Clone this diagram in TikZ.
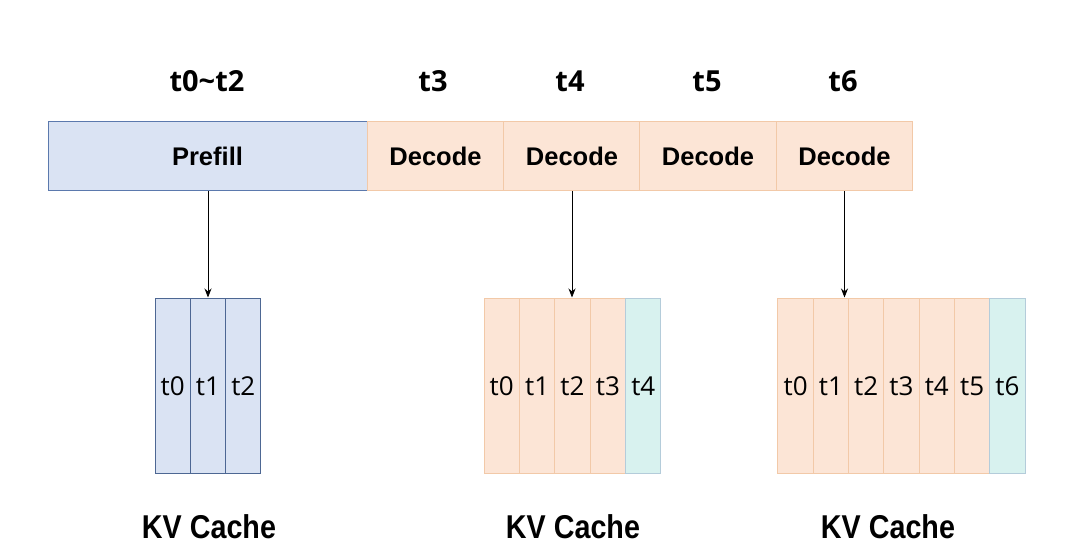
\documentclass[tikz,border=0pt]{standalone}
\usepackage{fontspec}
\setmainfont{Liberation Sans}
\newfontfamily\cellfont{Open Sans}
\usetikzlibrary{arrows.meta}
\definecolor{blueFill}{HTML}{DAE3F3}
\definecolor{blueLine}{HTML}{5B79AD}
\definecolor{peachFill}{HTML}{FCE5D6}
\definecolor{peachLine}{HTML}{F2C9A8}
\definecolor{cyanFill}{HTML}{D8F2EF}
\definecolor{cyanLine}{HTML}{B4CCDA}
\tikzset{
  phase/.style={draw, line width=1pt, minimum height=69pt, inner sep=0pt,
    font=\fontsize{25.5}{25.5}\selectfont\bfseries},
  prefillbox/.style={phase, fill=blueFill, draw=blueLine},
  decodebox/.style={phase, fill=peachFill, draw=peachLine, minimum width=136.5pt},
  cell/.style={draw, line width=1pt, minimum width=35.3pt, minimum height=175pt,
    inner sep=0pt, text height=19pt, text depth=0pt,
    font=\cellfont\fontsize{26}{26}\selectfont},
  oldcell/.style={cell, fill=blueFill, draw=blueLine!85!black},
  peachcell/.style={cell, fill=peachFill, draw=peachLine},
  newcell/.style={cell, fill=cyanFill, draw=cyanLine},
  steplabel/.style={font=\cellfont\fontsize{29}{29}\selectfont\bfseries},
  cachelabel/.style={font=\fontsize{33}{33}\selectfont\bfseries},
  link/.style={-{Stealth[length=9pt,width=7pt]}, line width=0.8pt, black}
}
\begin{document}
\begin{tikzpicture}[x=1pt,y=-1pt]
\useasboundingbox (0,0) rectangle (1080,559);

% time axis
\node[prefillbox, minimum width=319pt] (pre) at (207.5,156.5) {Prefill};
\node[decodebox] (d3) at (435.5,156.5) {Decode};
\node[decodebox] (d4) at (572,156.5) {Decode};
\node[decodebox] (d5) at (708,156.5) {Decode};
\node[decodebox] (d6) at (844.5,156.5) {Decode};

\node[steplabel] (l0) at (207,81) {t0\textasciitilde t2};
\node[steplabel] (l3) at (433,81) {t3};
\node[steplabel] (l4) at (570,81) {t4};
\node[steplabel] (l5) at (707,81) {t5};
\node[steplabel] (l6) at (843,81) {t6};

% cache after prefill
\foreach \i in {0,1,2}{
  \node[oldcell] (a\i) at ({172.7+35.3*\i},385.5) {t\i};
}
% cache at t4
\foreach \i in {0,...,3}{
  \node[peachcell] (b\i) at ({501.7+35.4*\i},385.5) {t\i};
}
\node[newcell] (b4) at ({501.7+35.4*4},385.5) {t4};
% cache at t6
\foreach \i in {0,...,5}{
  \node[peachcell] (c\i) at ({795.6+35.3*\i},385.5) {t\i};
}
\node[newcell] (c6) at ({795.6+35.3*6},385.5) {t6};

\draw[link] (pre.south -| a1.north) -- (a1.north);
\draw[link] (d4.south) -- (d4.south |- b2.north);
\draw[link] (d6.south) -- (d6.south |- c1.north);

\node[cachelabel] (k1) at (209,527) {\scalebox{0.87}[1]{KV Cache}};
\node[cachelabel] (k2) at (573,527) {\scalebox{0.87}[1]{KV Cache}};
\node[cachelabel] (k3) at (888,527) {\scalebox{0.87}[1]{KV Cache}};
\end{tikzpicture}
\end{document}
